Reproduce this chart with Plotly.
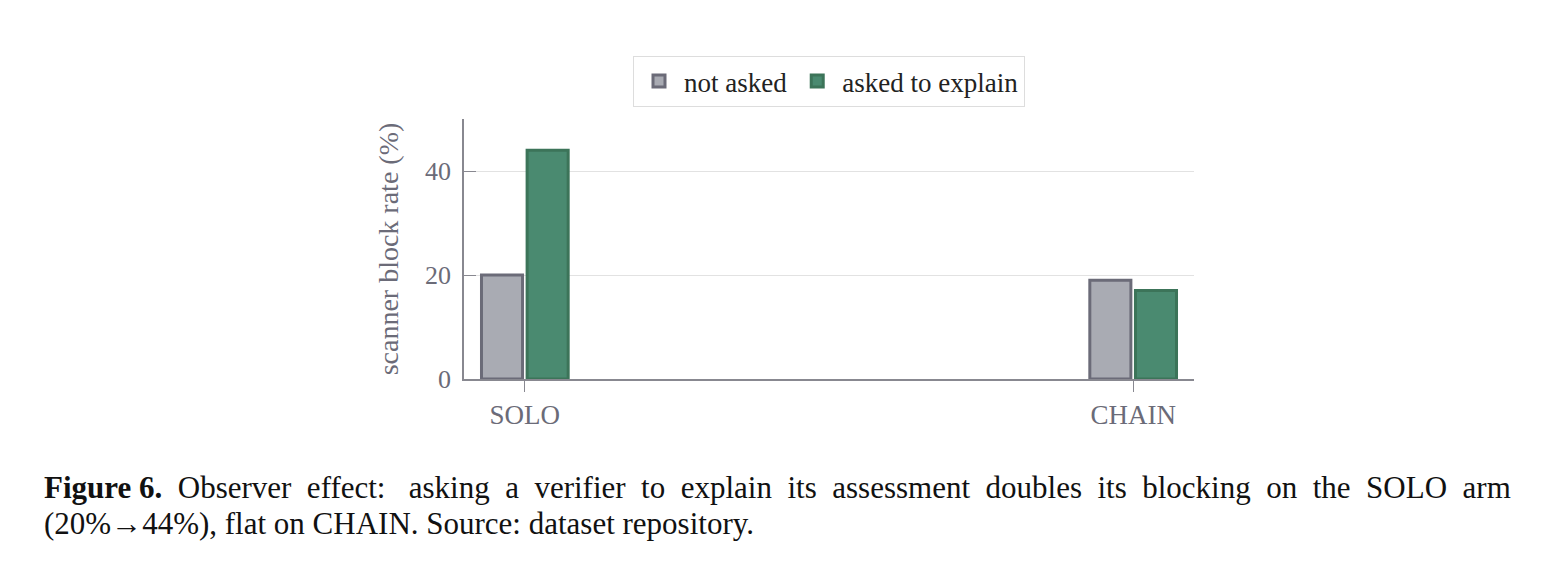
import plotly.graph_objects as go

categories = ["SOLO", "CHAIN"]
not_asked = [20, 19]
asked_to_explain = [44, 17]
series_names = ["not asked", "asked to explain"]
y_ticks = [0, 20, 40]

FONT = "Liberation Serif"
OFF = 8  # page body margin
W, H = 1542, 566
# target pixel positions on the page
PL, PR, PT, PB = 464, 1194, 119, 379
L, T = PL - OFF, PT - OFF
R, B = W - (PR - OFF), H - (PB - OFF)
pw, ph = PR - PL, PB - PT

def px_to_paper_x(px):
    return (px - PL) / pw

def py_to_paper_y(py):
    return (PB - py) / ph

fig = go.Figure()
fig.add_trace(go.Bar(
    x=categories, y=not_asked, name=series_names[0],
    marker=dict(color="#a9abb3", line=dict(color="#6b6b78", width=3)),
))
fig.add_trace(go.Bar(
    x=categories, y=asked_to_explain, name=series_names[1],
    marker=dict(color="#4a8a70", line=dict(color="#3c7459", width=3)),
))

fig.update_layout(
    width=W, height=H,
    margin=dict(l=L, r=R, t=T, b=B, autoexpand=False),
    paper_bgcolor="white", plot_bgcolor="white",
    barmode="group", bargap=0.85, bargroupgap=0.1,
    font=dict(family=FONT, size=22, color="#6b6b78"),
    showlegend=True,
    legend=dict(
        orientation="h", x=0.5, xanchor="center", y=py_to_paper_y(107), yanchor="bottom",
        bordercolor="#dddddd", borderwidth=1, bgcolor="white",
        font=dict(family=FONT, size=27, color="#222222"),
        itemwidth=40, tracegroupgap=0,
    ),
    xaxis=dict(
        range=[-0.1, 1.1], showgrid=False, showline=True, linecolor="#888890", linewidth=1.5,
        ticks="outside", ticklen=11, tickcolor="#888890", tickwidth=1,
        tickfont=dict(family=FONT, size=27, color="#6b6b78"),
    ),
    yaxis=dict(
        range=[0, 50], tickvals=y_ticks, showgrid=True, gridcolor="#e2e2e2", gridwidth=1,
        showline=True, linecolor="#888890", linewidth=1.5, zeroline=False,
        ticks="inside", ticklen=12, tickcolor="#888890", ticklabelstandoff=6,
        tickfont=dict(family=FONT, size=26, color="#6b6b78"),
        title=dict(text="scanner block rate (%)", font=dict(family=FONT, size=28, color="#6b6b78"), standoff=18),
    ),
)

line1 = "<b>Figure 6.</b>  Observer  effect:   asking  a  verifier  to  explain  its  assessment  doubles  its  blocking  on  the  SOLO  arm"
line2 = "(20%→44%), flat on CHAIN. Source: dataset repository."
fig.add_annotation(
    xref="paper", yref="paper", x=px_to_paper_x(42), y=py_to_paper_y(487), xanchor="left", yanchor="middle",
    text=line1, showarrow=False, font=dict(family=FONT, size=31, color="#111111"), align="left",
)
fig.add_annotation(
    xref="paper", yref="paper", x=px_to_paper_x(42), y=py_to_paper_y(523), xanchor="left", yanchor="middle",
    text=line2, showarrow=False, font=dict(family=FONT, size=31, color="#111111"), align="left",
)

fig.write_html("out.html")
